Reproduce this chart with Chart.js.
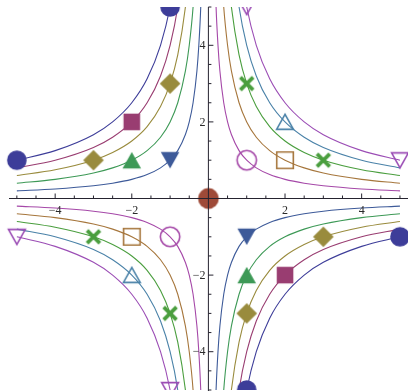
<!DOCTYPE html>
<html>
<head>
<meta charset="utf-8">
<script src="https://cdn.jsdelivr.net/npm/chart.js@4.4.0/dist/chart.umd.min.js"></script>
<style>
  html, body { margin: 0; padding: 0; background: #fff; }
  #chart { display: block; }
</style>
</head>
<body>
<canvas id="chart" width="408" height="391"></canvas>
<script>
// --- Data: curves x*y = c ---
const constants = [-5, -4, -3, -2, -1, 0, 1, 2, 3, 4, 5];

// x positions (right branch) and |y| of each curve |c| = 1..5
const gridX = [0.15, 0.2, 0.25, 0.3, 0.4, 0.5, 0.6, 0.8, 1, 1.25, 1.6, 2, 2.5, 3, 4, 5];
const curve1 = [6.67, 5, 4, 3.33, 2.5, 2, 1.67, 1.25, 1, 0.8, 0.625, 0.5, 0.4, 0.333, 0.25, 0.2];
const curve2 = [13.3, 10, 8, 6.67, 5, 4, 3.33, 2.5, 2, 1.6, 1.25, 1, 0.8, 0.667, 0.5, 0.4];
const curve3 = [20, 15, 12, 10, 7.5, 6, 5, 3.75, 3, 2.4, 1.875, 1.5, 1.2, 1, 0.75, 0.6];
const curve4 = [26.7, 20, 16, 13.3, 10, 8, 6.67, 5, 4, 3.2, 2.5, 2, 1.6, 1.333, 1, 0.8];
const curve5 = [33.3, 25, 20, 16.7, 12.5, 10, 8.33, 6.25, 5, 4, 3.125, 2.5, 2, 1.667, 1.25, 1];
const curves = [curve1, curve2, curve3, curve4, curve5];

// marked points of each series
const pointsNeg5 = [[-5, 1], [-1, 5], [5, -1], [1, -5]];
const pointsNeg4 = [[-2, 2], [2, -2]];
const pointsNeg3 = [[-3, 1], [-1, 3], [3, -1], [1, -3]];
const pointsNeg2 = [[-2, 1], [1, -2]];
const pointsNeg1 = [[-1, 1], [1, -1]];
const pointsZero = [[0, 0]];
const pointsPos1 = [[1, 1], [-1, -1]];
const pointsPos2 = [[2, 1], [-2, -1]];
const pointsPos3 = [[1, 3], [3, 1], [-1, -3], [-3, -1]];
const pointsPos4 = [[2, 2], [-2, -2]];
const pointsPos5 = [[5, 1], [1, 5], [-5, -1], [-1, -5]];
const markerPoints = [pointsNeg5, pointsNeg4, pointsNeg3, pointsNeg2, pointsNeg1, pointsZero,
                      pointsPos1, pointsPos2, pointsPos3, pointsPos4, pointsPos5];

const xTicks = [-4, -2, 2, 4];
const yTicks = [-4, -2, 2, 4];
const minorStep = 0.5;

// --- Estilo ---
const seriesColors = ['#3d3d99', '#993d71', '#998b3d', '#3d9956', '#3d5a99', '#9e4a38',
                      '#a548a8', '#a6763c', '#4a9e3e', '#4a82a8', '#9b4db5'];
const markerKinds = ['dot', 'square', 'diamond', 'up', 'down', 'bigdot',
                     'ring', 'box', 'cross', 'upOpen', 'downOpen'];

function makeMarker(kind, color) {
  const s = 28, m = s / 2;
  const cv = document.createElement('canvas');
  cv.width = cv.height = s;
  const g = cv.getContext('2d');
  g.fillStyle = color;
  g.strokeStyle = color;
  g.lineWidth = 1.6;
  g.beginPath();
  switch (kind) {
    case 'dot': g.arc(m, m, 9.8, 0, Math.PI * 2); g.fill(); break;
    case 'bigdot': g.arc(m, m, 10.4, 0, Math.PI * 2); g.fill(); break;
    case 'square': g.rect(m - 8.3, m - 8.3, 16.6, 16.6); g.fill(); break;
    case 'diamond':
      g.moveTo(m, m - 10.3); g.lineTo(m + 10.3, m); g.lineTo(m, m + 10.3); g.lineTo(m - 10.3, m);
      g.closePath(); g.fill(); break;
    case 'up':
      g.moveTo(m, m - 8.2); g.lineTo(m + 9.3, m + 8.2); g.lineTo(m - 9.3, m + 8.2);
      g.closePath(); g.fill(); break;
    case 'down':
      g.moveTo(m, m + 8.2); g.lineTo(m + 9.3, m - 8.2); g.lineTo(m - 9.3, m - 8.2);
      g.closePath(); g.fill(); break;
    case 'ring': g.arc(m, m, 9.7, 0, Math.PI * 2); g.stroke(); break;
    case 'box': g.rect(m - 8.3, m - 8.3, 16.6, 16.6); g.stroke(); break;
    case 'cross':
      g.lineWidth = 3.8;
      g.moveTo(m - 6.4, m - 6.4); g.lineTo(m + 6.4, m + 6.4);
      g.moveTo(m + 6.4, m - 6.4); g.lineTo(m - 6.4, m + 6.4);
      g.stroke(); break;
    case 'upOpen':
      g.moveTo(m, m - 7.6); g.lineTo(m + 8.4, m + 7.4); g.lineTo(m - 8.4, m + 7.4);
      g.closePath(); g.stroke(); break;
    case 'downOpen':
      g.moveTo(m, m + 7.6); g.lineTo(m + 8.4, m - 7.4); g.lineTo(m - 8.4, m - 7.4);
      g.closePath(); g.stroke(); break;
  }
  return cv;
}

// --- Datasets ---
const datasets = [];

// markers on top
constants.forEach((c, i) => {
  datasets.push({
    label: 'c = ' + c,
    data: markerPoints[i].map(p => ({ x: p[0], y: p[1] })),
    pointStyle: makeMarker(markerKinds[i], seriesColors[i]),
    pointRadius: 10,
    showLine: false,
    clip: 0,
    order: 0
  });
});

// curves: right branch from the table, left branch is its mirror through the origin
constants.forEach((c, i) => {
  if (c === 0) return;
  const mags = curves[Math.abs(c) - 1];
  const sign = Math.sign(c);
  const right = gridX.map((gx, j) => ({ x: gx, y: sign * mags[j] }));
  const left = right.map(p => ({ x: -p.x, y: -p.y })).reverse();
  [left, right].forEach(branch => {
    datasets.push({
      data: branch,
      showLine: true,
      pointRadius: 0,
      borderColor: seriesColors[i],
      borderWidth: 1.1,
      cubicInterpolationMode: 'monotone',
      clip: 0,
      order: 1
    });
  });
});

// --- Eixos no meio ---
const axesPlugin = {
  id: 'axesAtOrigin',
  afterDatasetsDraw(chart) {
    const { ctx, scales: { x, y } } = chart;
    const x0 = x.getPixelForValue(0);
    const y0 = y.getPixelForValue(0);
    ctx.save();
    ctx.strokeStyle = '#25232f';
    ctx.lineWidth = 1;
    ctx.beginPath();
    ctx.moveTo(9, y0); ctx.lineTo(chart.width, y0);
    ctx.moveTo(x0, chart.chartArea.top); ctx.lineTo(x0, chart.height);
    for (let v = -5; v <= 5; v += minorStep) {
      if (v === 0) continue;
      const px = x.getPixelForValue(v);
      ctx.moveTo(px, y0); ctx.lineTo(px, y0 - (xTicks.includes(v) ? 5 : 3));
      const py = y.getPixelForValue(v);
      ctx.moveTo(x0, py); ctx.lineTo(x0 + (yTicks.includes(v) ? 5 : 3), py);
    }
    ctx.stroke();

    ctx.fillStyle = '#2a2a2a';
    ctx.font = '12px "Liberation Serif"';
    ctx.textAlign = 'center';
    ctx.textBaseline = 'middle';
    xTicks.forEach(v => {
      ctx.fillText(String(v).replace('-', '\u2212'), x.getPixelForValue(v), y0 + 12);
    });
    ctx.textAlign = 'right';
    yTicks.forEach(v => {
      ctx.fillText(String(v).replace('-', '\u2212'), x0 - 3, y.getPixelForValue(v) + 0.5);
    });
    ctx.restore();
  }
};

new Chart(document.getElementById('chart'), {
  type: 'scatter',
  data: { datasets },
  options: {
    responsive: false,
    animation: false,
    events: [],
    layout: { autoPadding: false, padding: { top: 7, bottom: 1, left: 0, right: 0 } },
    plugins: { legend: { display: false }, tooltip: { enabled: false } },
    scales: {
      x: { type: 'linear', min: -5.44, max: 5.21, display: false },
      y: { type: 'linear', min: -5, max: 5, display: false }
    }
  },
  plugins: [axesPlugin]
});
</script>
</body>
</html>
